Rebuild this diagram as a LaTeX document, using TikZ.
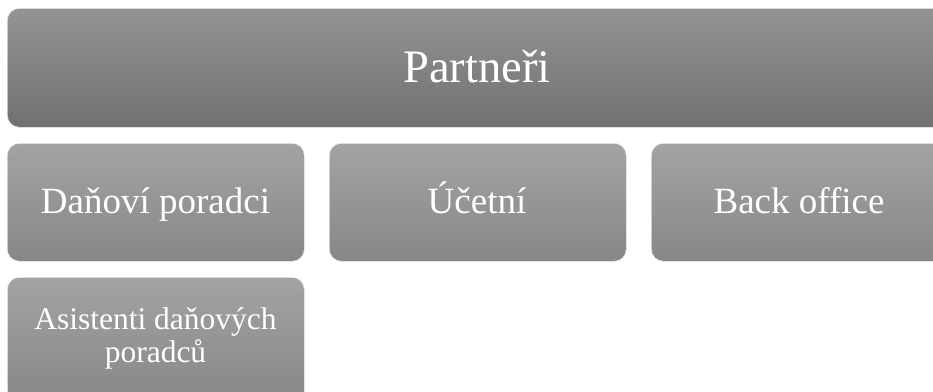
\documentclass[tikz,border=0pt]{standalone}
\usepackage{fontspec}
\setmainfont{Liberation Serif}
\begin{document}
\begin{tikzpicture}[x=1pt,y=-1pt,
  box/.style={rectangle, rounded corners=12pt, draw=white!85!gray, line width=0.6pt,
    inner sep=0pt, anchor=north west},
  topbox/.style={box, top color=black!42, bottom color=black!56},
  unitbox/.style={box, top color=black!36, bottom color=black!47,
    minimum width=297pt, minimum height=118pt},
  lbl/.style={text=white, anchor=base, inner sep=0pt},
  big/.style={font=\fontsize{46.5}{52}\selectfont},
  mid/.style={font=\fontsize{37}{42}\selectfont},
  small/.style={font=\fontsize{31.5}{36}\selectfont},
]
\clip (0,0) rectangle (933,391);
\fill[white] (0,0) rectangle (933,391);
% head of the firm
\node[topbox, minimum width=945pt, minimum height=119pt] (partneri) at (7,8) {};
\node[lbl, big] (partneritxt) at (477,82) {Partneři};
% departments
\node[unitbox] (dan) at (7,143) {};
\node[unitbox] (ucet) at (329,143) {};
\node[unitbox] (back) at (651,143) {};
\node[lbl, mid] (dantxt) at (155.5,213) {Daňoví poradci};
\node[lbl, mid] (ucettxt) at (477,213) {Účetní};
\node[lbl, mid] (backtxt) at (799,213) {Back office};
% assistants
\node[unitbox, minimum height=125pt] (asis) at (7,277) {};
\node[lbl, small] (asistxt1) at (155.5,329) {Asistenti daňových};
\node[lbl, small] (asistxt2) at (155.5,362) {poradců};
\end{tikzpicture}
\end{document}
